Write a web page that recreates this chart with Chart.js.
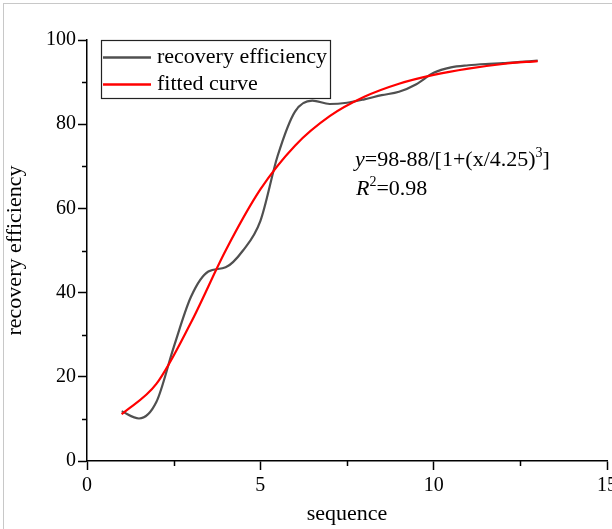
<!DOCTYPE html>
<html>
<head>
<meta charset="utf-8">
<script src="https://cdn.jsdelivr.net/npm/chart.js@4.4.0/dist/chart.umd.min.js"></script>
<style>
  html, body { margin: 0; padding: 0; background: #fff; overflow: hidden; width: 612px; height: 529px; }
  #frame { position: absolute; left: 3px; top: 3px; width: 700px; height: 600px;
           border-left: 1px solid #c8c8c8; border-top: 1px solid #c8c8c8; }
  #wrap { position: absolute; left: 0; top: 0; width: 640px; height: 529px; }
</style>
</head>
<body>
<div id="frame"></div>
<div id="wrap"><canvas id="chart" width="640" height="529"></canvas></div>
<script>
var seqMeasured = [1, 1.5, 2, 2.5, 3, 3.5, 4, 4.5, 5, 5.5, 6, 6.5, 7, 7.5, 8, 8.5, 9, 9.5, 10, 10.5, 11, 11.5, 12, 12.5, 13];
var recovery    = [11.8, 10.1, 14, 27, 39, 45, 46, 50, 57, 72.5, 83, 85.6, 84.8, 85.1, 85.9, 86.9, 87.7, 89.5, 92.2, 93.5, 94, 94.3, 94.5, 94.8, 95.1];

// fitted curve
var seqFit = [1, 2, 3, 4, 5, 6, 7, 8, 9, 10, 11, 12, 13];
var fitted = [11.1, 18.3, 32.9, 50.0, 64.5, 74.9, 81.9, 86.5, 89.6, 91.7, 93.2, 94.3, 95.0];

var xTicks = [0, 5, 10, 15];
var yTicks = [0, 20, 40, 60, 80, 100];
var xMinor = [2.5, 7.5, 12.5];
var yMinor = [10, 30, 50, 70, 90];

var serif = '"Liberation Serif", "Times New Roman", serif';

function toPoints(xs, ys) {
  return xs.map(function(v, i) { return { x: v, y: ys[i] }; });
}

var minorTicks = {
  id: 'minorTicks',
  afterDraw: function(chart) {
    var ctx = chart.ctx, x = chart.scales.x, y = chart.scales.y;
    ctx.save();
    ctx.strokeStyle = '#000';
    ctx.lineWidth = 1.5;
    ctx.beginPath();
    xMinor.forEach(function(v) {
      var px = Math.round(x.getPixelForValue(v)) + 0.5;
      ctx.moveTo(px, x.top); ctx.lineTo(px, x.top + 5);
    });
    yMinor.forEach(function(v) {
      var py = Math.round(y.getPixelForValue(v)) + 0.5;
      ctx.moveTo(y.right, py); ctx.lineTo(y.right - 5, py);
    });
    ctx.stroke();
    ctx.restore();
  }
};

// boxed legend in the upper left of the plot
var boxLegend = {
  id: 'boxLegend',
  afterDraw: function(chart) {
    var ctx = chart.ctx, a = chart.chartArea;
    var left = a.left + 14, top = a.top, w = 229, h = 58;
    ctx.save();
    ctx.strokeStyle = '#222';
    ctx.lineWidth = 1.2;
    ctx.strokeRect(left + 0.5, top + 0.5, w, h);
    ctx.font = '22px ' + serif;
    ctx.textBaseline = 'middle';
    ctx.fillStyle = '#000';
    chart.data.datasets.forEach(function(ds, i) {
      var cy = top + 17.5 + i * 27;
      ctx.strokeStyle = ds.borderColor;
      ctx.lineWidth = 2.5;
      ctx.beginPath();
      ctx.moveTo(left + 2, cy); ctx.lineTo(left + 50, cy);
      ctx.stroke();
      ctx.fillText(ds.label, left + 56, cy);
    });
    ctx.restore();
  }
};

// fit equation
var equation = {
  id: 'equation',
  afterDraw: function(chart) {
    var ctx = chart.ctx, x = chart.scales.x, y = chart.scales.y;
    var px = x.getPixelForValue(7.73), py = y.getPixelForValue(70.0);
    var norm = '22px ' + serif, ital = 'italic 22px ' + serif, sup = '14px ' + serif;
    function runs(list, sx, sy) {
      list.forEach(function(r) {
        ctx.font = r[1];
        ctx.fillText(r[0], sx, sy + (r[2] || 0));
        sx += ctx.measureText(r[0]).width;
      });
    }
    ctx.save();
    ctx.fillStyle = '#000';
    ctx.textBaseline = 'alphabetic';
    runs([['y', ital], ['=98-88/[1+(x/4.25)', norm], ['3', sup, -9], [']', norm]], px, py);
    runs([['R', ital], ['2', sup, -9], ['=0.98', norm]], px + 1, py + 29);
    ctx.restore();
  }
};

new Chart(document.getElementById('chart'), {
  type: 'line',
  data: {
    datasets: [{
      label: 'recovery efficiency',
      data: toPoints(seqMeasured, recovery),
      borderColor: '#505050',
      borderWidth: 2.2,
      cubicInterpolationMode: 'monotone',
      pointRadius: 0,
      fill: false,
      order: 1
    }, {
      label: 'fitted curve',
      data: toPoints(seqFit, fitted),
      borderColor: '#ff0000',
      borderWidth: 2.2,
      cubicInterpolationMode: 'monotone',
      pointRadius: 0,
      fill: false,
      order: 0
    }]
  },
  options: {
    responsive: false,
    animation: false,
    layout: { padding: { top: 40, right: 33, left: 0, bottom: 0 } },
    plugins: { legend: { display: false }, tooltip: { enabled: false } },
    scales: {
      x: {
        type: 'linear', min: 0, max: 15,
        afterBuildTicks: function(s) { s.ticks = xTicks.map(function(v) { return { value: v }; }); },
        afterFit: function(s) { s.height = 68; },
        ticks: { font: { family: serif, size: 20 }, color: '#000', padding: 4, maxRotation: 0 },
        grid: { drawOnChartArea: false, drawTicks: true, tickLength: 9, tickWidth: 1.5, tickColor: '#000' },
        border: { color: '#000', width: 1.5 },
        title: { display: true, text: 'sequence', color: '#000', font: { family: serif, size: 22 }, padding: { top: 0, bottom: 2 } }
      },
      y: {
        type: 'linear', min: 0, max: 100,
        afterBuildTicks: function(s) { s.ticks = yTicks.map(function(v) { return { value: v }; }); },
        afterFit: function(s) { s.width = 87; },
        ticks: { font: { family: serif, size: 20 }, color: '#000', padding: 2 },
        grid: { drawOnChartArea: false, drawTicks: true, tickLength: 9, tickWidth: 1.5, tickColor: '#000' },
        border: { color: '#000', width: 1.5 },
        title: { display: true, text: 'recovery efficiency', color: '#000', font: { family: serif, size: 22 }, padding: { top: 2, bottom: 0 } }
      }
    }
  },
  plugins: [minorTicks, boxLegend, equation]
});
</script>
</body>
</html>
